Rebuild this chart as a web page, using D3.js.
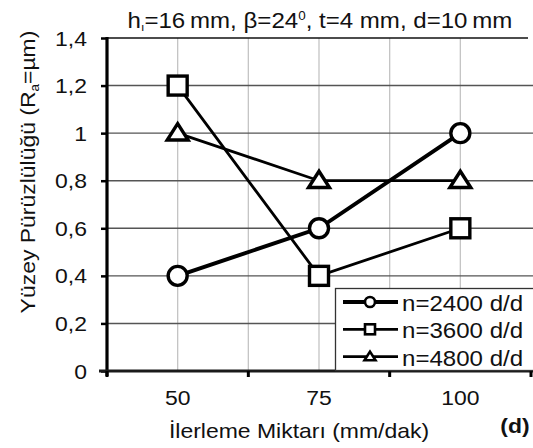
<!DOCTYPE html>
<html>
<head>
<meta charset="utf-8">
<script src="https://cdn.jsdelivr.net/npm/d3@7"></script>
<style>
  html, body { margin: 0; padding: 0; background: #fff; }
  svg { display: block; font-family: "Liberation Sans", Arial, sans-serif; }
</style>
</head>
<body>
<svg id="chart" width="533" height="448"></svg>
<script>
// Feed rates (mm/dak) on the x axis
const categories = ["50", "75", "100"];
// Surface roughness Ra (µm) for each spindle speed
const rpm2400 = [0.4, 0.6, 1.0];
const rpm3600 = [1.2, 0.4, 0.6];
const rpm4800 = [1.0, 0.8, 0.8];
const seriesNames = ["n=2400 d/d", "n=3600 d/d", "n=4800 d/d"];
const yTicks = [0, 0.2, 0.4, 0.6, 0.8, 1.0, 1.2, 1.4];

const series = [
  { name: seriesNames[0], values: rpm2400, symbol: "circle", width: 4 },
  { name: seriesNames[1], values: rpm3600, symbol: "square", width: 2.8 },
  { name: seriesNames[2], values: rpm4800, symbol: "triangle", width: 2.8 }
];

const svg = d3.select("#chart");
const plotL = 107, plotR = 531, plotT = 38, plotB = 371;
const SX = 1.12;           // horizontal stretch of the lettering
const FONT = 20.5;

const x = d3.scaleBand().domain(categories).range([plotL, plotR]).paddingInner(0).paddingOuter(0);
const y = d3.scaleLinear().domain([0, 1.4]).range([plotB, plotT]);
const fmt = v => (v === 0 || v === 1) ? String(v) : String(v).replace(".", ",");

// Places a horizontally stretched text element
function label(g, px, py, anchor, size, txt, rotate) {
  const t = g.append("text")
    .attr("transform", `translate(${px},${py})${rotate ? " rotate(" + rotate + ")" : ""} scale(${SX},1)`)
    .attr("text-anchor", anchor).attr("font-size", size).attr("fill", "#111");
  if (txt) t.text(txt);
  return t;
}

// Vertical gridlines at band edges and centres
const vLines = [];
categories.forEach((c, i) => {
  if (i > 0) vLines.push(x(c));
  vLines.push(x(c) + x.bandwidth() / 2);
});
svg.append("g").selectAll("line").data(vLines).join("line")
  .attr("x1", d => d).attr("x2", d => d)
  .attr("y1", plotT).attr("y2", plotB)
  .attr("stroke", "#c4c4c4").attr("stroke-width", 1.3);

// Horizontal gridlines
svg.append("g").selectAll("line").data(yTicks.filter(t => t > 0 && t < 1.4)).join("line")
  .attr("x1", plotL).attr("x2", 533)
  .attr("y1", d => y(d)).attr("y2", d => y(d))
  .attr("stroke", "#555").attr("stroke-width", 1.4);

// Top frame line
svg.append("line").attr("x1", plotL).attr("x2", 528).attr("y1", plotT).attr("y2", plotT)
  .attr("stroke", "#111").attr("stroke-width", 1.4);

// Y axis
const yAxis = d3.axisLeft(y).tickValues(yTicks).tickSize(6).tickFormat(fmt);
const gy = svg.append("g").attr("transform", `translate(${plotL},0)`).call(yAxis);
gy.select(".domain").remove();
gy.selectAll(".tick line").attr("stroke", "#000").attr("stroke-width", 2.5);
gy.selectAll(".tick text")
  .attr("x", 0).attr("dy", null).attr("y", 0)
  .attr("transform", `translate(-20,7) scale(${SX},1)`)
  .attr("text-anchor", "end")
  .attr("font-size", FONT).attr("fill", "#111")
  .attr("font-family", "Liberation Sans, Arial, sans-serif");
svg.append("line").attr("x1", plotL).attr("x2", plotL).attr("y1", plotT - 1).attr("y2", plotB + 5)
  .attr("stroke", "#000").attr("stroke-width", 3.2);

// X axis: ticks on band edges, labels at centres
svg.append("line").attr("x1", plotL - 8).attr("x2", 533).attr("y1", plotB).attr("y2", plotB)
  .attr("stroke", "#1a1a1a").attr("stroke-width", 3);
const edges = categories.map(c => x(c)).concat([plotR]);
svg.append("g").selectAll("line").data(edges).join("line")
  .attr("x1", d => d).attr("x2", d => d).attr("y1", plotB).attr("y2", plotB + 6)
  .attr("stroke", "#000").attr("stroke-width", 3);
const gx = svg.append("g");
categories.forEach(c => label(gx, x(c) + x.bandwidth() / 2, 405, "middle", FONT, c));

// Series lines and markers
const cx = (d, i) => x(categories[i]) + x.bandwidth() / 2;
const line = d3.line().x((d, i) => cx(d, i)).y(d => y(d));

function drawSymbol(g, type, px, py, s, sw) {
  if (type === "circle") {
    g.append("circle").attr("cx", px).attr("cy", py).attr("r", s * 0.5)
      .attr("fill", "#fff").attr("stroke", "#000").attr("stroke-width", sw);
  } else if (type === "square") {
    g.append("rect").attr("x", px - s / 2).attr("y", py - s / 2).attr("width", s).attr("height", s)
      .attr("fill", "#fff").attr("stroke", "#000").attr("stroke-width", sw);
  } else {
    g.append("path")
      .attr("d", `M${px},${py - s * 0.5}L${px + s * 0.55},${py + s * 0.36}L${px - s * 0.55},${py + s * 0.36}Z`)
      .attr("fill", "#fff").attr("stroke", "#000").attr("stroke-width", sw).attr("stroke-linejoin", "miter");
  }
}

const gs = svg.append("g");
series.forEach(s => {
  gs.append("path").datum(s.values).attr("d", line)
    .attr("fill", "none").attr("stroke", "#000").attr("stroke-width", s.width);
});
series.forEach(s => {
  s.values.forEach((v, i) => drawSymbol(gs, s.symbol, cx(v, i), y(v), 19, 3.4));
});

// Legend
const lg = svg.append("g");
lg.append("rect").attr("x", 335.5).attr("y", 288.5).attr("width", 200).attr("height", 82)
  .attr("fill", "#fff").attr("stroke", "#333").attr("stroke-width", 1.3);
series.forEach((s, i) => {
  const ly = 302 + i * 27.3;
  lg.append("line").attr("x1", 343).attr("x2", 398).attr("y1", ly).attr("y2", ly)
    .attr("stroke", "#000").attr("stroke-width", s.width);
  drawSymbol(lg, s.symbol, 370, ly, 10, 2.6);
  label(lg, 402, ly + 9, "start", 21.5, s.name);
});

// Title
const title = label(svg, 320, 28, "middle", 21.5, null);
title.append("tspan").text("h");
title.append("tspan").attr("font-size", 11).attr("dy", 3).text("ı");
title.append("tspan").attr("dy", -3).text("=16\u2009mm, β=24");
title.append("tspan").attr("font-size", 12).attr("dy", -8).text("0");
title.append("tspan").attr("dy", 8).text(", t=4 mm, d=10\u2009mm");

// Y axis title
const yt = label(svg, 35, 172, "middle", FONT, null, -90);
yt.append("tspan").text("Yüzey Pürüzlülüğü (R");
yt.append("tspan").attr("font-size", 12).attr("dy", 4).text("a");
yt.append("tspan").attr("dy", -4).text("=µm)");

// X axis title and panel tag
label(svg, 299, 438, "middle", FONT, "İlerleme Miktarı (mm/dak)");
label(svg, 515, 433, "middle", FONT, "(d)").attr("font-weight", "bold");
</script>
</body>
</html>
